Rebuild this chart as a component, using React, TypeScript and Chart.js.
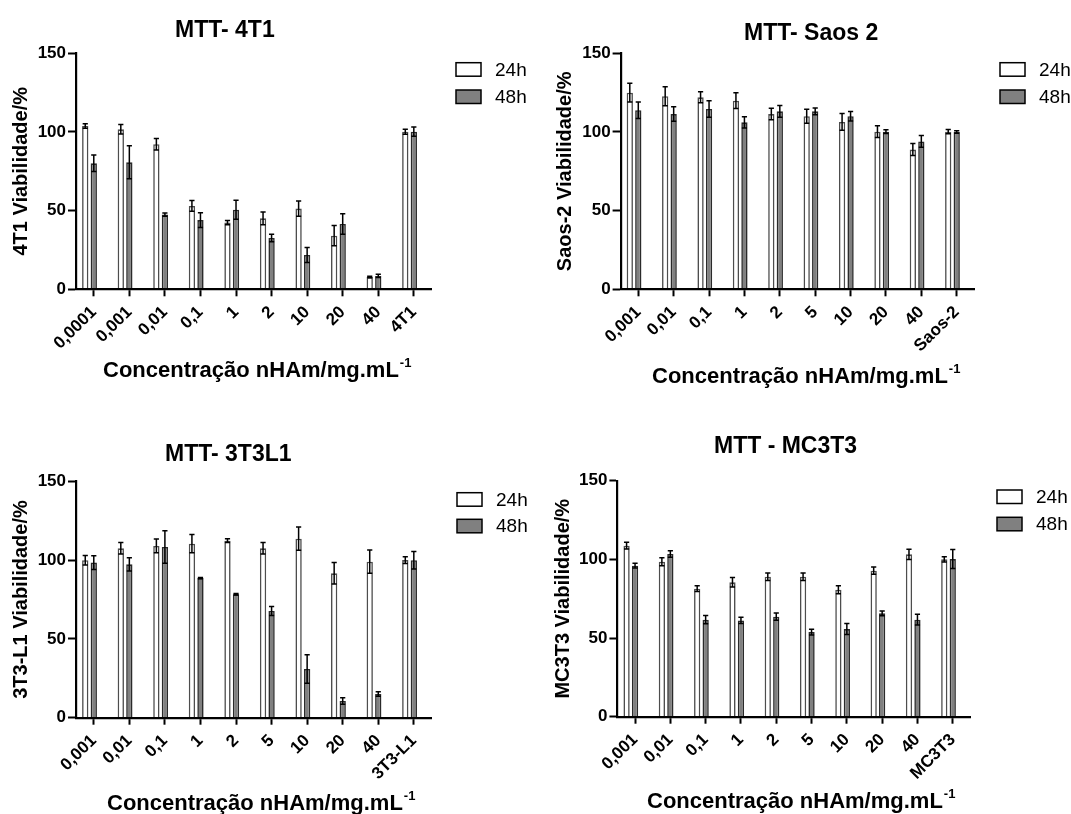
import React, { useEffect, useRef } from 'react';
import { Chart, registerables } from 'chart.js';

Chart.register(...registerables);

const FONT = "'Liberation Sans', Arial, sans-serif";
const X_TITLE = 'Concentração nHAm/mg.mL';
const X_TITLE_SUP = '-1';
const SERIES_LABELS = ['24h', '48h'];

// ---- MTT 4T1 ----
const CATS_4T1 = ['0,0001', '0,001', '0,01', '0,1', '1', '2', '10', '20', '40', '4T1'];
const V24_4T1 = [103.8, 101.7, 92.2, 53.0, 42.4, 45.1, 51.3, 34.1, 7.8, 100.2];
const E24_4T1 = [1.5, 3.0, 3.6, 3.4, 1.4, 4.0, 4.9, 6.4, 0.5, 1.6];
const V48_4T1 = [80.1, 80.7, 47.5, 44.0, 50.6, 32.6, 21.8, 41.5, 8.5, 100.2];
const E48_4T1 = [5.2, 10.5, 1.0, 4.7, 6.0, 2.4, 4.7, 6.5, 1.0, 3.0];

// ---- MTT Saos 2 ----
const CATS_SAOS = ['0,001', '0,01', '0,1', '1', '2', '5', '10', '20', '40', 'Saos-2'];
const V24_SAOS = [125.0, 122.7, 122.0, 119.9, 111.4, 110.0, 106.4, 100.2, 88.8, 100.2];
const E24_SAOS = [6.0, 6.0, 3.5, 5.0, 3.7, 4.5, 5.3, 3.7, 3.8, 1.4];
const V48_SAOS = [113.8, 111.4, 114.6, 106.1, 113.1, 113.1, 110.0, 100.2, 94.0, 100.0];
const E48_SAOS = [5.2, 4.6, 5.3, 3.5, 3.7, 2.1, 3.0, 1.2, 3.7, 0.8];

// ---- MTT 3T3L1 ----
const CATS_3T3 = ['0,001', '0,01', '0,1', '1', '2', '5', '10', '20', '40', '3T3-L1'];
const V24_3T3 = [99.9, 107.5, 109.0, 110.4, 112.3, 107.5, 113.6, 91.6, 99.0, 100.0];
const E24_3T3 = [3.0, 3.6, 4.4, 5.8, 1.2, 3.6, 7.4, 6.8, 7.4, 2.2];
const V48_3T3 = [98.4, 97.3, 108.3, 88.6, 78.3, 67.7, 30.9, 10.6, 15.0, 99.9];
const E48_3T3 = [4.3, 4.2, 10.3, 0.4, 0.5, 2.9, 9.0, 2.0, 1.4, 5.5];

// ---- MTT MC3T3 ----
const CATS_MC = ['0,001', '0,01', '0,1', '1', '2', '5', '10', '20', '40', 'MC3T3'];
const V24_MC = [108.7, 98.5, 81.4, 85.4, 89.0, 89.0, 80.7, 92.8, 103.2, 100.0];
const E24_MC = [2.1, 2.6, 1.9, 3.0, 2.4, 2.4, 2.5, 2.3, 3.3, 1.7];
const V48_MC = [96.0, 103.4, 61.7, 61.2, 63.6, 53.8, 55.7, 65.7, 61.7, 100.2];
const E48_MC = [1.5, 2.1, 2.6, 2.0, 2.3, 1.8, 3.5, 1.5, 3.4, 6.0];

const Y_TICKS = [0, 50, 100, 150];

const errorBarPlugin = {
  id: 'errorBars',
  afterDatasetsDraw(chart: any) {
    const ctx = chart.ctx;
    const yScale = chart.scales.y;
    chart.data.datasets.forEach((ds: any, di: number) => {
      const errs = ds.errors;
      if (!errs) return;
      const meta = chart.getDatasetMeta(di);
      meta.data.forEach((bar: any, i: number) => {
        const v = ds.data[i];
        const e = errs[i];
        if (v == null || e == null) return;
        const x = bar.x;
        const yT = yScale.getPixelForValue(v + e);
        const yB = yScale.getPixelForValue(v - e);
        ctx.save();
        ctx.strokeStyle = '#000';
        ctx.lineWidth = 1.5;
        ctx.beginPath();
        ctx.moveTo(x, yT);
        ctx.lineTo(x, yB);
        ctx.moveTo(x - 2.6, yT);
        ctx.lineTo(x + 2.6, yT);
        ctx.moveTo(x - 2.6, yB);
        ctx.lineTo(x + 2.6, yB);
        ctx.stroke();
        ctx.restore();
      });
    });
  },
};

const annotPlugin = {
  id: 'annot',
  afterDraw(chart: any, _args: any, opts: any) {
    const ctx = chart.ctx;
    ctx.save();
    ctx.fillStyle = '#000';
    ctx.textAlign = 'left';
    ctx.textBaseline = 'alphabetic';
    // panel title
    ctx.font = `bold 23px ${FONT}`;
    ctx.fillText(opts.title, opts.titleX, opts.titleY);
    // x-axis title with superscript
    ctx.font = `bold 22px ${FONT}`;
    ctx.fillText(X_TITLE, opts.xtX, opts.xtY);
    const w = ctx.measureText(X_TITLE).width;
    ctx.font = `bold 13px ${FONT}`;
    ctx.fillText(X_TITLE_SUP, opts.xtX + w + 1, opts.xtY - 10);
    // legend
    let k = 0;
    chart.data.datasets.forEach((ds: any) => {
      if (!ds.label) return;
      const y = opts.legY[k++];
      ctx.fillStyle = ds.backgroundColor;
      ctx.fillRect(opts.legX, y, 25, 13.5);
      ctx.strokeStyle = '#000';
      ctx.lineWidth = 1.5;
      ctx.strokeRect(opts.legX, y, 25, 13.5);
      ctx.fillStyle = '#000';
      ctx.font = `19px ${FONT}`;
      ctx.fillText(ds.label, opts.legX + 39, y + 13);
    });
    ctx.restore();
  },
};

type PanelCfg = {
  left: number; top: number; width: number; height: number;
  cats: string[]; v24: number[]; e24: number[]; v48: number[]; e48: number[];
  title: string; yTitle: string;
  yW: number; padTop: number; padRight: number; xH: number; yTitlePad: number;
  titleX: number; titleY: number; xtX: number; xtY: number; legX: number; legY: number[];
};

const PANELS: PanelCfg[] = [
  {
    left: 0, top: 0, width: 535, height: 410,
    cats: CATS_4T1, v24: V24_4T1, e24: E24_4T1, v48: V48_4T1, e48: E48_4T1,
    title: 'MTT- 4T1', yTitle: '4T1 Viabilidade/%',
    yW: 76, padTop: 53.3, padRight: 103.4, xH: 120.7, yTitlePad: 9.5,
    titleX: 175, titleY: 36.7, xtX: 103, xtY: 376.7, legX: 456, legY: [62.7, 90],
  },
  {
    left: 535, top: 0, width: 536, height: 410,
    cats: CATS_SAOS, v24: V24_SAOS, e24: E24_SAOS, v48: V48_SAOS, e48: E48_SAOS,
    title: 'MTT- Saos 2', yTitle: 'Saos-2 Viabilidade/%',
    yW: 85.6, padTop: 53.3, padRight: 96.6, xH: 120.7, yTitlePad: 18,
    titleX: 209, titleY: 40, xtX: 117, xtY: 383.3, legX: 465, legY: [62.7, 90],
  },
  {
    left: 0, top: 410, width: 535, height: 404,
    cats: CATS_3T3, v24: V24_3T3, e24: E24_3T3, v48: V48_3T3, e48: E48_3T3,
    title: 'MTT- 3T3L1', yTitle: '3T3-L1 Viabilidade/%',
    yW: 76, padTop: 71.3, padRight: 103.4, xH: 96.3, yTitlePad: 9.5,
    titleX: 165, titleY: 50.7, xtX: 107, xtY: 400, legX: 457, legY: [82.7, 109.3],
  },
  {
    left: 535, top: 410, width: 536, height: 404,
    cats: CATS_MC, v24: V24_MC, e24: E24_MC, v48: V48_MC, e48: E48_MC,
    title: 'MTT - MC3T3', yTitle: 'MC3T3 Viabilidade/%',
    yW: 82.4, padTop: 70.7, padRight: 100.6, xH: 97.3, yTitlePad: 16,
    titleX: 179, titleY: 43.3, xtX: 112, xtY: 398.3, legX: 462, legY: [80, 107.3],
  },
];

function Panel({ cfg }: { cfg: PanelCfg }) {
  const ref = useRef<HTMLCanvasElement | null>(null);
  useEffect(() => {
    if (!ref.current) return;
    const barOpts = { categoryPercentage: 0.72, barPercentage: 0.74, borderWidth: 1.6 };
    const chart = new Chart(ref.current, {
      type: 'bar',
      data: {
        labels: cfg.cats,
        datasets: [
          {
            label: SERIES_LABELS[0], data: cfg.v24, errors: cfg.e24,
            backgroundColor: '#ffffff', borderColor: '#4d4d4d', ...barOpts,
          } as any,
          {
            label: SERIES_LABELS[1], data: cfg.v48, errors: cfg.e48,
            backgroundColor: '#808080', borderColor: '#2a2a2a', ...barOpts,
          } as any,
          // empty slot so that the 48h bar sits on the category tick
          { label: '', data: cfg.cats.map(() => null), backgroundColor: 'rgba(0,0,0,0)', ...barOpts } as any,
        ],
      },
      options: {
        responsive: false,
        animation: false,
        devicePixelRatio: 1,
        layout: { padding: { left: 0, top: cfg.padTop, right: cfg.padRight, bottom: 0 } },
        plugins: {
          legend: { display: false },
          title: { display: false },
          tooltip: { enabled: false },
          annot: {
            title: cfg.title, titleX: cfg.titleX, titleY: cfg.titleY,
            xtX: cfg.xtX, xtY: cfg.xtY, legX: cfg.legX, legY: cfg.legY,
          },
        } as any,
        scales: {
          x: {
            type: 'category',
            offset: true,
            grid: {
              display: true, drawOnChartArea: false, drawTicks: true, offset: false,
              tickLength: 7, tickWidth: 2, tickColor: '#000', color: '#000',
            },
            border: { display: true, color: '#000', width: 2.2, z: 1 },
            ticks: {
              color: '#000', autoSkip: false, maxRotation: 45, minRotation: 45, padding: 6,
              font: { family: FONT, size: 17, weight: 'bold' },
            },
            afterFit: (s: any) => { s.height = cfg.xH; },
          },
          y: {
            min: Y_TICKS[0], max: Y_TICKS[Y_TICKS.length - 1],
            afterBuildTicks: (s: any) => { s.ticks = Y_TICKS.map((v) => ({ value: v })); },
            grid: {
              display: true, drawOnChartArea: false, drawTicks: true,
              tickLength: 8, tickWidth: 2, tickColor: '#000', color: '#000',
            },
            border: { display: true, color: '#000', width: 2.2, z: 1 },
            ticks: {
              color: '#000', padding: 2,
              font: { family: FONT, size: 17, weight: 'bold' },
            },
            title: {
              display: true, text: cfg.yTitle, color: '#000',
              font: { family: FONT, size: 20, weight: 'bold' },
              padding: { top: cfg.yTitlePad, bottom: 0 },
            },
            afterFit: (s: any) => { s.width = cfg.yW; },
          },
        } as any,
      },
      plugins: [errorBarPlugin, annotPlugin],
    } as any);
    return () => chart.destroy();
  }, [cfg]);
  return (
    <canvas
      ref={ref}
      width={cfg.width}
      height={cfg.height}
      style={{ position: 'absolute', left: cfg.left, top: cfg.top, width: cfg.width, height: cfg.height }}
    />
  );
}

export default function App() {
  return (
    <div style={{ position: 'absolute', left: 0, top: 0, width: 1071, height: 814, background: '#fff', overflow: 'hidden' }}>
      {PANELS.map((p, i) => (
        <Panel key={i} cfg={p} />
      ))}
    </div>
  );
}
